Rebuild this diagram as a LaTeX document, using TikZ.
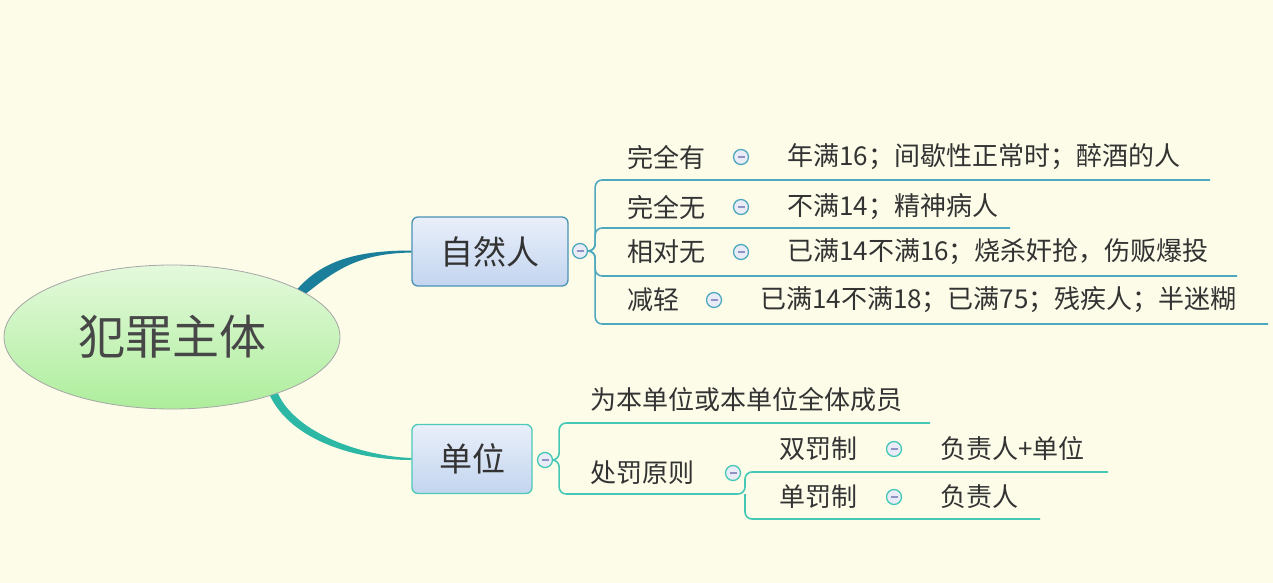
\documentclass[tikz,border=0pt]{standalone}
\usepackage{fontspec}
\newfontfamily\cjk{Noto Sans CJK SC}
\usetikzlibrary{shapes.geometric, calc}
\definecolor{paper}{HTML}{FCFCE9}
\definecolor{natline}{HTML}{1B7F9B}
\definecolor{natsub}{HTML}{4FA9BE}
\definecolor{natbox}{HTML}{4A92B5}
\definecolor{unitline}{HTML}{2DB8A5}
\definecolor{unitsub}{HTML}{45C8B6}
\definecolor{unitbox}{HTML}{4CC9B9}
\definecolor{boxtop}{HTML}{E9EFFA}
\definecolor{boxbot}{HTML}{C3D5EF}
\definecolor{roottop}{HTML}{E4F9DC}
\definecolor{rootbot}{HTML}{AEEE9C}
\definecolor{textgray}{HTML}{333333}
\definecolor{foldfill}{HTML}{E9EBF6}
\definecolor{foldmark}{HTML}{8F93C4}
\tikzset{
  % Central topic
  roottopic/.style={
    ellipse, minimum width=336, minimum height=144,
    draw=gray!70, line width=0.8pt, top color=roottop, bottom color=rootbot,
    text=textgray!90, font=\cjk\fontsize{47}{50}\selectfont,
  },
  % Main topics
  maintopic/.style={
    rectangle, rounded corners=6pt, minimum height=69,
    draw=#1, line width=1.3pt, top color=boxtop, bottom color=boxbot,
    text=textgray, font=\cjk\fontsize{33}{38}\selectfont, inner xsep=0pt,
  },
  maintopic/.default={natbox},
  % Collapse markers
  fold/.style={
    circle, minimum size=15, inner sep=0pt, draw=#1, line width=1.3pt,
    fill=foldfill,
    path picture={\draw[foldmark, line width=1.3pt]
      ([xshift=-3.5pt]path picture bounding box.center) --
      ([xshift=3.5pt]path picture bounding box.center);},
  },
  fold/.default={natsub},
  % Sub topics
  leaf/.style={anchor=west, inner sep=0pt, text=textgray,
    font=\cjk\fontsize{26}{30}\selectfont},
  % Underlines
  uline/.style={line width=1.6pt, rounded corners=7pt, #1},
  uline/.default={natsub},
}

\begin{document}
\begin{tikzpicture}[x=1pt, y=-1pt]

  \useasboundingbox (0,0) rectangle (1273,583);
  \fill[paper] (0,0) rectangle (1273,583);

  % Central topic and main topics
  \node[roottopic] (root) at (172,337) {犯罪主体};
  \node[maintopic=natbox, minimum width=156] (nat) at (490,251.5) {自然人};
  \node[maintopic=unitbox, minimum width=120] (unit) at (472,459) {单位};

  % Tapered branches
  \fill[natline] (root.21) .. controls +(25,-28) and +(-55,0) .. ([yshift=1pt]nat.west)
    -- ([yshift=-1pt]nat.west) .. controls +(-52,1) and +(30,-24) .. (root.18) -- cycle;
  \fill[unitline] (root.-31) .. controls +(22,45) and +(-55,0) .. ([yshift=-1pt]unit.west)
    -- ([yshift=1pt]unit.west) .. controls +(-50,-2) and +(18,40) .. (root.-28) -- cycle;

  \node[fold=natsub] (natfold) at (580,251) {};
  \node[fold=unitsub] (unitfold) at (545,460) {};

  % Natural person
  \node[leaf] (full) at (627,157) {完全有};
  \node[fold] (fullfold) at (741,157) {};
  \node[leaf] (fullnote) at (787,157) {年满16；间歇性正常时；醉酒的人};
  \coordinate (fullend) at (1210,180);

  \node[leaf] (none) at (627,207) {完全无};
  \node[fold] (nonefold) at (741,207) {};
  \node[leaf] (nonenote) at (787,207) {不满14；精神病人};
  \coordinate (noneend) at (1010,228);

  \node[leaf] (part) at (627,252) {相对无};
  \node[fold] (partfold) at (741,252) {};
  \node[leaf] (partnote) at (787,252) {已满14不满16；烧杀奸抢，伤贩爆投};
  \coordinate (partend) at (1237,276);

  \node[leaf] (less) at (627,300) {减轻};
  \node[fold] (lessfold) at (714,300) {};
  \node[leaf] (lessnote) at (760,300) {已满14不满18；已满75；残疾人；半迷糊};
  \coordinate (lessend) at (1268,324);

  \draw[uline] (natfold.east) -- ++(7,0) |- (fullend);
  \draw[uline] (natfold.east) -- ++(7,0) |- (noneend);
  \draw[uline] (natfold.east) -- ++(7,0) |- (partend);
  \draw[uline] (natfold.east) -- ++(7,0) |- (lessend);

  % Unit
  \node[leaf] (member) at (590,400) {为本单位或本单位全体成员};
  \coordinate (memberend) at (930,423);

  \node[leaf] (rule) at (590,473) {处罚原则};
  \node[fold=unitsub] (rulefold) at (733,473) {};
  \coordinate (ruleend) at (745,494);

  \node[leaf] (double) at (779,449) {双罚制};
  \node[fold=unitsub] (doublefold) at (894,449) {};
  \node[leaf] (doublenote) at (940,449) {负责人+单位};
  \coordinate (doubleend) at (1108,472);

  \node[leaf] (single) at (779,497) {单罚制};
  \node[fold=unitsub] (singlefold) at (894,497) {};
  \node[leaf] (singlenote) at (940,497) {负责人};
  \coordinate (singleend) at (1040,519);

  \draw[uline=unitsub] (unitfold.east) -- ++(6,0) |- (memberend);
  \draw[uline=unitsub] (unitfold.east) -- ++(6,0) |- (ruleend) |- (doubleend);
  \draw[uline=unitsub] (ruleend) |- (singleend);

\end{tikzpicture}
\end{document}
